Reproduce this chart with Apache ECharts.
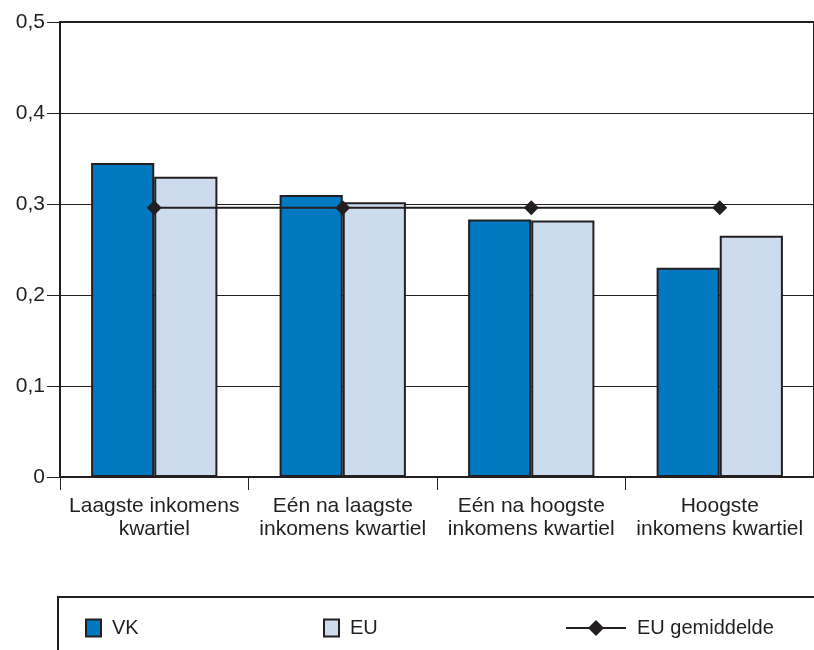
<!DOCTYPE html>
<html style="height: 100%">
<head>
    <meta charset="utf-8">
    <title>Inkomenskwartielen VK en EU</title>
    <script type="text/javascript" src="https://cdn.jsdelivr.net/npm/echarts@6/dist/echarts.min.js"></script>
</head>
<body style="width: 100%;margin: 0;height: 100%">
<div id="container" style="width: 814px;height: 650px"></div>
<script type="application/javascript">

    var categories = ['Laagste inkomens\nkwartiel', 'Eén na laagste\ninkomens kwartiel',
        'Eén na hoogste\ninkomens kwartiel', 'Hoogste\ninkomens kwartiel'];
    var vk = [0.345, 0.31, 0.283, 0.23];
    var eu = [0.33, 0.302, 0.282, 0.265];
    var euGemiddelde = [0.296, 0.296, 0.296, 0.296];
    var yTicks = [0, 0.1, 0.2, 0.3, 0.4, 0.5];

    var font = '"Liberation Sans", Arial, sans-serif';
    var ink = '#231f20';

    var myChart = echarts.init(document.getElementById('container'));

    var legendText = {fontSize: 20, color: ink, fontFamily: font, padding: [0, 0, 0, 6]};

    var option = {
        animation: false,
        textStyle: {fontFamily: font},
        grid: {
            left: 60, top: 22, width: 756, height: 455,
            show: true, borderColor: ink, borderWidth: 2
        },
        legend: [
            {data: ['VK'], left: 80, top: 613, icon: 'rect', itemWidth: 15, itemHeight: 17,
                textStyle: legendText},
            {data: ['EU'], left: 318, top: 613, icon: 'rect', itemWidth: 15, itemHeight: 17,
                textStyle: legendText},
            {data: ['EU gemiddelde'], left: 560, top: 613, itemWidth: 60, itemHeight: 20,
                textStyle: legendText}
        ],
        graphic: [{
            type: 'rect',
            shape: {x: 58, y: 597, width: 780, height: 80},
            style: {fill: 'none', stroke: ink, lineWidth: 2},
            silent: true
        }],
        xAxis: {
            type: 'category',
            data: categories,
            axisLine: {lineStyle: {color: ink, width: 2}},
            axisTick: {show: true, length: 13, lineStyle: {color: ink, width: 1}},
            axisLabel: {fontSize: 21, color: ink, lineHeight: 23, margin: 18, interval: 0}
        },
        yAxis: {
            type: 'value',
            min: yTicks[0],
            max: yTicks[yTicks.length - 1],
            interval: 0.1,
            axisLine: {show: true, lineStyle: {color: ink, width: 2}},
            axisTick: {show: true, length: 13, lineStyle: {color: ink, width: 1}},
            axisLabel: {
                fontSize: 21, color: ink, margin: 15,
                formatter: function (v) {
                    return v === 0 ? '0' : v.toFixed(1).replace('.', ',');
                }
            },
            splitLine: {lineStyle: {color: ink, width: 1}}
        },
        series: [
            {
                name: 'VK', type: 'bar', data: vk,
                barGap: '0%', barCategoryGap: '33%',
                itemStyle: {color: '#0079c1', borderColor: ink, borderWidth: 2}
            },
            {
                name: 'EU', type: 'bar', data: eu,
                itemStyle: {color: '#ccdcee', borderColor: ink, borderWidth: 2}
            },
            {
                name: 'EU gemiddelde', type: 'line', data: euGemiddelde,
                symbol: 'diamond', symbolSize: 15, z: 5,
                lineStyle: {color: ink, width: 2},
                itemStyle: {color: ink}
            }
        ]
    };

    myChart.setOption(option);
</script>
</body>
</html>
